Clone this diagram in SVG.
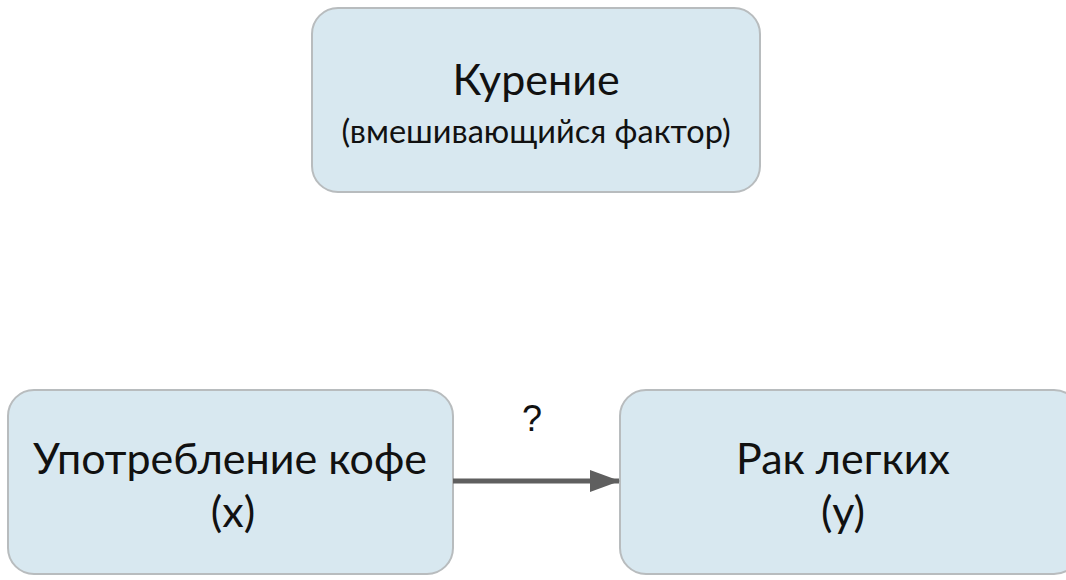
<svg xmlns="http://www.w3.org/2000/svg" width="1066" height="580" viewBox="0 0 1066 580">
<style>
.box{fill:#d8e8f0;stroke:#b8bcbe;stroke-width:2}
.t{font-family:Lato,"Noto Sans",sans-serif;fill:#111;text-anchor:middle}
</style>
<defs><marker id="ah" markerWidth="30" markerHeight="22" refX="29" refY="11" orient="auto" markerUnits="userSpaceOnUse"><path d="M0,0 L30,11 L0,22 Z" fill="#5f5f5f"/></marker></defs>
<rect width="1066" height="580" fill="#fff"/>
<g id="smoking"><rect class="box" x="312" y="8" width="448" height="184" rx="26"/>
<text class="t" x="536" y="95" font-size="43">Курение</text>
<text class="t" x="536" y="143" font-size="32.5">(вмешивающийся фактор)</text></g>
<g id="coffee"><rect class="box" x="8" y="390" width="445" height="184" rx="26"/>
<text class="t" x="230" y="474" font-size="43">Употребление кофе</text>
<text class="t" x="233" y="527" font-size="43">(x)</text></g>
<g id="cancer"><rect class="box" x="620" y="390" width="460" height="184" rx="26"/>
<text class="t" x="843" y="474" font-size="43">Рак легких</text>
<text class="t" x="843" y="527" font-size="43">(y)</text></g>
<g id="connectors"><line x1="453" y1="481" x2="619" y2="481" stroke="#5f5f5f" stroke-width="5" marker-end="url(#ah)"/>
<text x="532" y="431" font-family="Liberation Sans,sans-serif" font-size="36" text-anchor="middle" fill="#111">?</text></g>
</svg>
